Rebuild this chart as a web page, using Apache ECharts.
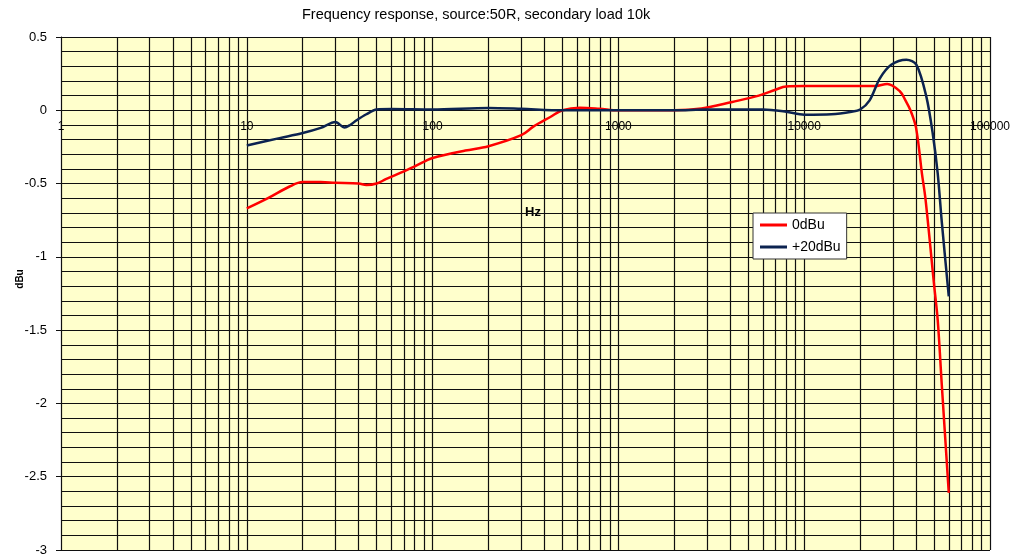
<!DOCTYPE html>
<html>
<head>
<meta charset="utf-8">
<script src="https://cdn.jsdelivr.net/npm/echarts@6/dist/echarts.min.js"></script>
<style>
    html, body { margin: 0; padding: 0; background: #fff; }
    #chart { width: 1014px; height: 558px; }
</style>
</head>
<body>
<div id="chart"></div>
<script>
//数据 - 0dBu
var redHz = [10, 13, 17, 20, 25, 30, 40, 44, 50, 56, 72, 92, 100, 150, 200, 300, 350, 430, 500,
    620, 790, 1000, 2000, 2800, 4100, 5700, 7000, 8000, 10000, 15000, 20000, 24000, 28000, 32700, 35000,
    37300, 40000, 43000, 45000, 50000, 52300, 55000, 60000];
var redDb = [-0.67, -0.60, -0.52, -0.49, -0.49, -0.495, -0.50, -0.51, -0.50, -0.47, -0.41, -0.345, -0.325, -0.275, -0.245, -0.17, -0.11, -0.046, 0.0,
    0.018, 0.011, 0.0, 0.0, 0.012, 0.057, 0.10, 0.14, 0.163, 0.165, 0.165, 0.165, 0.165, 0.18, 0.13, 0.07,
    0.0, -0.12, -0.43, -0.61, -1.19, -1.43, -1.87, -2.61];
//数据 - +20dBu
var blueHz = [10, 15, 20, 25, 30, 33.6, 36, 39, 44, 50, 60, 100, 200, 300, 500, 1000, 2000, 3000, 6000, 8000,
    10000, 14000, 18000, 20000, 22500, 25500, 29400, 35500, 40200, 45500, 49200, 52300, 55000, 60000];
var blueDb = [-0.24, -0.19, -0.155, -0.12, -0.08, -0.118, -0.10, -0.068, -0.027, 0.005, 0.008, 0.005, 0.016, 0.01, 0.0, 0.0, 0.0, 0.005, 0.005, -0.01,
    -0.03, -0.027, -0.01, 0.005, 0.068, 0.216, 0.31, 0.345, 0.31, 0.09, -0.16, -0.43, -0.76, -1.27];
var seriesNames = ['0dBu', '+20dBu'];
var titleText = 'Frequency response, source:50R, secondary load 10k';

var font = '"Liberation Sans", Arial, sans-serif';
var gridColor = '#101010';

//合并成点对
function pairs(xs, ys) {
    var out = [];
    for (var i = 0; i < xs.length; i++) {
        out.push([xs[i], ys[i]]);
    }
    return out;
}

//对数副网格线 2..9
var minorLines = [];
for (var k = 0; k < 5; k++) {
    for (var m = 2; m <= 9; m++) {
        minorLines.push({ xAxis: m * Math.pow(10, k) });
    }
}

var chart = echarts.init(document.getElementById('chart'));
var option = {
    animation: false,
    textStyle: { fontFamily: font, color: '#000' },
    title: {
        text: titleText,
        left: 302,
        top: 7,
        padding: 0,
        textStyle: { fontFamily: font, fontSize: 14.5, fontWeight: 'normal', color: '#000' }
    },
    grid: {
        left: 61, right: 24, top: 37, bottom: 8,
        show: true, backgroundColor: '#ffffcc', borderWidth: 0,
        containLabel: false, outerBoundsMode: 'none'
    },
    legend: {
        data: seriesNames,
        orient: 'vertical',
        left: 753,
        top: 213,
        backgroundColor: '#fff',
        borderColor: '#333',
        borderWidth: 1,
        borderRadius: 0,
        padding: [5, 6, 5, 7],
        itemWidth: 27,
        itemHeight: 3,
        itemGap: 8,
        icon: 'rect',
        textStyle: { fontFamily: font, fontSize: 14, color: '#000' }
    },
    xAxis: {
        type: 'log',
        logBase: 10,
        min: 1,
        max: 100000,
        offset: -440,
        axisLine: { show: true, onZero: false, lineStyle: { color: gridColor, width: 1 } },
        axisTick: { show: true, length: 5, lineStyle: { color: gridColor } },
        axisLabel: {
            show: true, margin: 11, fontSize: 12, color: '#000', fontFamily: font,
            showMinLabel: true, showMaxLabel: true,
            formatter: function (v) { return String(Math.round(v)); }
        },
        splitLine: { show: true, lineStyle: { color: gridColor, width: 1.2 } },
        minorTick: { show: false },
        minorSplitLine: { show: false }
    },
    yAxis: {
        type: 'value',
        min: -3,
        max: 0.5,
        interval: 0.5,
        axisLine: { show: true, lineStyle: { color: gridColor, width: 1 } },
        axisTick: { show: true, length: 5, lineStyle: { color: gridColor } },
        axisLabel: { margin: 14, fontSize: 13, color: '#000', fontFamily: font },
        splitLine: { show: true, lineStyle: { color: gridColor, width: 1.2 } },
        minorTick: { show: false, splitNumber: 5 },
        minorSplitLine: { show: true, lineStyle: { color: gridColor, width: 1.2 } }
    },
    graphic: [
        {
            type: 'text', x: 533, y: 212,
            style: { text: 'Hz', font: 'bold 13px ' + font, fill: '#000', align: 'center', verticalAlign: 'middle' }
        },
        {
            type: 'text', x: 20, y: 279, rotation: Math.PI / 2,
            style: { text: 'dBu', font: 'bold 10px ' + font, fill: '#000', align: 'center', verticalAlign: 'middle' }
        }
    ],
    series: [
        {
            name: seriesNames[0],
            type: 'line',
            data: pairs(redHz, redDb),
            smooth: 0.35,
            showSymbol: false,
            z: 3,
            itemStyle: { color: '#ff0000' },
            lineStyle: { color: '#ff0000', width: 2.5 },
            markLine: {
                silent: true,
                z: 1,
                symbol: 'none',
                label: { show: false },
                lineStyle: { color: gridColor, width: 1.2, type: 'solid' },
                emphasis: { disabled: true },
                data: minorLines
            }
        },
        {
            name: seriesNames[1],
            type: 'line',
            data: pairs(blueHz, blueDb),
            smooth: 0.3,
            showSymbol: false,
            z: 4,
            itemStyle: { color: '#0c2350' },
            lineStyle: { color: '#0c2350', width: 2.5 }
        }
    ]
};
chart.setOption(option);
</script>
</body>
</html>
